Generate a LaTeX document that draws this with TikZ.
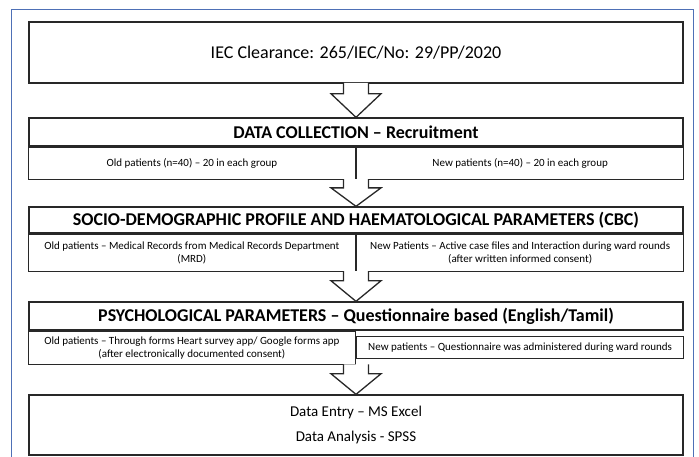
\documentclass[tikz,border=0pt]{standalone}
\usepackage{fontspec}
\setmainfont{Carlito}
\usetikzlibrary{calc}
\definecolor{framecol}{RGB}{78,112,182}
\definecolor{boxline}{RGB}{40,40,40}
\tikzset{
  box/.style={draw=boxline, line width=1.3pt, fill=white, inner sep=0pt, minimum width=654pt, align=center},
  title/.style={font=\bfseries\fontsize{18}{21}\selectfont},
  half/.style={box, minimum width=327pt, font=\fontsize{11}{13}\selectfont},
  blockarrow/.style={draw=boxline, line width=1.3pt, fill=white, line join=miter},
  frame/.style={draw=framecol, line width=1pt}
}
\begin{document}
\begin{tikzpicture}[x=1pt, y=-1pt]
\useasboundingbox (0,0) rectangle (699,457);
\draw[frame] (11,10) rectangle (693,470);
\coordinate (axis) at (356,0);
% ethics
\node[box, minimum height=61pt, font=\fontsize{18}{21}\selectfont] (iec) at (356,52.5) {IEC Clearance: 265/IEC/No: 29/PP/2020};
% recruitment
\node[box, title, minimum height=28pt] (dc) at (356,132) {DATA COLLECTION -- Recruitment};
\node[half, minimum height=32pt, anchor=north east] (dcold) at (dc.south -| axis) {Old patients (n=40) -- 20 in each group};
\node[half, minimum height=32pt, anchor=north west] (dcnew) at (dc.south -| axis) {New patients (n=40) -- 20 in each group};
% socio-demographic
\node[box, title, minimum height=26pt] (socio) at (356,220) {SOCIO-DEMOGRAPHIC PROFILE AND HAEMATOLOGICAL PARAMETERS (CBC)};
\node[half, minimum height=37pt, anchor=north east] (sdold) at (socio.south -| axis) {Old patients -- Medical Records from Medical Records Department\\(MRD)};
\node[half, minimum height=37pt, anchor=north west] (sdnew) at (socio.south -| axis) {New Patients -- Active case files and Interaction during ward rounds\\(after written informed consent)};
% psychological
\node[box, title, minimum height=28pt] (psy) at (356,316) {PSYCHOLOGICAL PARAMETERS -- Questionnaire based (English/Tamil)};
\node[half, minimum height=33pt, anchor=north east] (psyold) at (psy.south -| axis) {Old patients -- Through forms Heart survey app/ Google forms app\\(after electronically documented consent)};
\node[half, minimum height=22pt, anchor=west] (psynew) at (psyold.east) {New patients -- Questionnaire was administered during ward rounds};
% analysis
\node[box, minimum height=60pt, font=\fontsize{15}{25}\selectfont] (entry) at (356,425) {Data Entry -- MS Excel\\Data Analysis - SPSS};
% block arrows
\foreach \a/\b in {iec/dc, dcold/socio, sdold/psy, psyold/entry}
  \draw[blockarrow] let \p1=(\a.south -| axis), \p2=(\b.north -| axis), \n1={0.3*(\y1-\y2)} in
    (\x1-12.5pt,\y1+0.7pt) -- (\x1-12.5pt,\y1-\n1) -- (\x1-25pt,\y1-\n1) -- (\x2,\y2)
    -- (\x1+25pt,\y1-\n1) -- (\x1+12.5pt,\y1-\n1) -- (\x1+12.5pt,\y1+0.7pt);
\end{tikzpicture}
\end{document}
